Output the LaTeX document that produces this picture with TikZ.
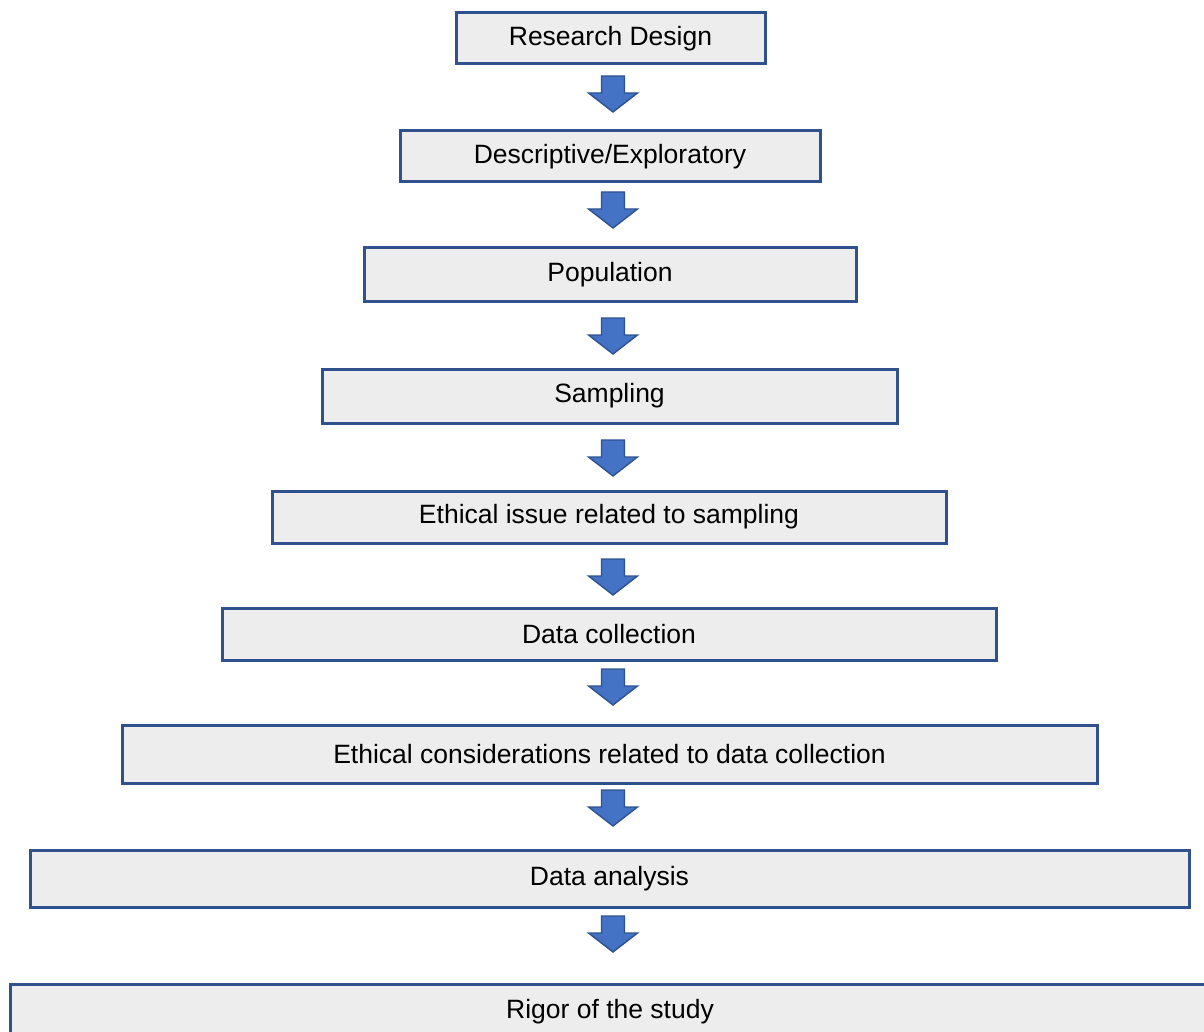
\documentclass[tikz,border=0pt]{standalone}
\usepackage{fontspec}
\setmainfont{Liberation Sans}
\definecolor{boxline}{HTML}{2F528F}
\definecolor{boxfill}{HTML}{EDEDED}
\definecolor{arrowblue}{HTML}{4472C4}
\begin{document}
\begin{tikzpicture}[x=1pt,y=-1pt,
  stepbox/.style={draw=boxline, fill=boxfill, line width=3pt, rectangle, inner sep=0pt,
    font=\fontsize{26.5}{30}\selectfont, text=black},
  blockarrow/.pic={\draw[draw=boxline, fill=arrowblue, line width=1.4pt, line join=miter]
    (-11.5,0) -- (11.5,0) -- (11.5,17) -- (24.5,17) -- (0,36) -- (-24.5,17) -- (-11.5,17) -- cycle;}
]
\useasboundingbox (0,0) rectangle (1204,1032);
\fill[white] (0,0) rectangle (1204,1032);
\clip (0,0) rectangle (1204,1032);

\node[stepbox, minimum width=309, minimum height=51] (b1) at (610.5,38.5) {Research Design};
\node[stepbox, minimum width=420, minimum height=51] (b2) at (610,156.5) {Descriptive/Exploratory};
\node[stepbox, minimum width=492, minimum height=53] (b3) at (610,274.5) {Population};
\node[stepbox, minimum width=575, minimum height=54] (b4) at (609.5,396) {Sampling};
\node[stepbox, minimum width=674, minimum height=52] (b5) at (609,517) {Ethical issue related to sampling};
\node[stepbox, minimum width=774, minimum height=52] (b6) at (609,634) {Data collection};
\node[stepbox, minimum width=975, minimum height=58] (b7) at (609.5,754) {Ethical considerations related to data collection};
\node[stepbox, minimum width=1159, minimum height=57] (b8) at (609.5,878.5) {Data analysis};
\node[stepbox, minimum width=1200, minimum height=56] (b9) at (610,1012) {Rigor of the study};

\coordinate (a1) at (613,76);
\coordinate (a2) at (613,192);
\coordinate (a3) at (613,318);
\coordinate (a4) at (613,440);
\coordinate (a5) at (613,559);
\coordinate (a6) at (613,669);
\coordinate (a7) at (613,790);
\coordinate (a8) at (613,916);
\foreach \a in {a1,a2,a3,a4,a5,a6,a7,a8}
  \pic at (\a) {blockarrow};
\end{tikzpicture}
\end{document}
